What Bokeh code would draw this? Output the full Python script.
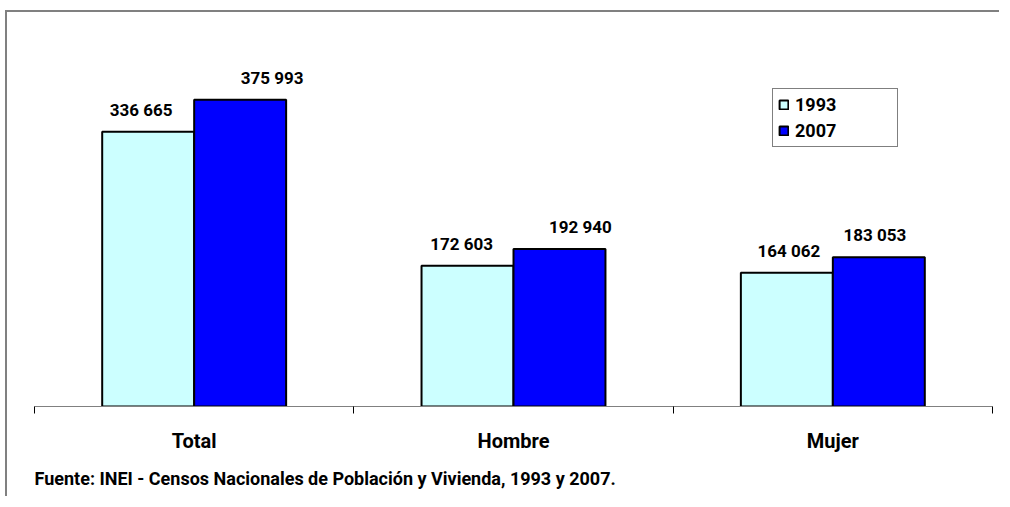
from bokeh.plotting import figure
from bokeh.models import ColumnDataSource, FixedTicker, Legend, LegendItem, Title, Range1d
from bokeh.embed import file_html
from bokeh.resources import INLINE
from bokeh.core.properties import value

# ---- data ----
categories = ["Total", "Hombre", "Mujer"]
series_names = ["1993", "2007"]
values_1993 = [336665, 172603, 164062]
values_2007 = [375993, 192940, 183053]
source_note = "Fuente: INEI - Censos Nacionales de Población y Vivienda, 1993 y 2007."

# ---- styling ----
FONT = "Roboto"
COLOR_1993 = "#CCFFFF"
COLOR_2007 = "#0000FF"
BAR_W = 0.288
label_dx_1993 = [-7, -6, 2]     # pixel nudges of the data labels
label_dx_2007 = [32, 21, -4]


def fmt(v):
    return f"{v:,}".replace(",", " ")


centers = [i + 0.5 for i in range(len(categories))]
bounds = [float(i) for i in range(len(categories) + 1)]

src = ColumnDataSource(dict(
    x93=[c - BAR_W / 2 for c in centers],
    x07=[c + BAR_W / 2 for c in centers],
    v93=values_1993,
    v07=values_2007,
    l93=[fmt(v) for v in values_1993],
    l07=[fmt(v) for v in values_2007],
    dx93=label_dx_1993,
    dx07=label_dx_2007,
))

p = figure(width=994, height=486,
           x_range=Range1d(0, len(categories)), y_range=Range1d(0, 440000),
           output_backend="svg", toolbar_location=None,
           y_axis_location=None,
           min_border_left=27, min_border_right=9,
           min_border_top=35, min_border_bottom=92)
p.styles = {"border-left": "2px solid #808080", "border-top": "2px solid #808080",
            "margin-top": "10px", "margin-left": "5px"}
p.xgrid.visible = False
p.ygrid.visible = False
p.outline_line_color = None
p.background_fill_color = "white"
p.border_fill_color = "white"

r1 = p.vbar(x="x93", top="v93", bottom=0, width=BAR_W, source=src,
            fill_color=COLOR_1993, line_color="black", line_width=2)
r2 = p.vbar(x="x07", top="v07", bottom=0, width=BAR_W, source=src,
            fill_color=COLOR_2007, line_color="black", line_width=2)

for xcol, ycol, lcol, dxcol in [("x93", "v93", "l93", "dx93"), ("x07", "v07", "l07", "dx07")]:
    p.text(x=xcol, y=ycol, text=lcol, source=src, x_offset=dxcol, y_offset=-22,
           text_align="center", text_baseline="alphabetic",
           text_font=value(FONT), text_font_size="17px", text_font_style="bold",
           text_color="black")

xa = p.xaxis[0]
xa.ticker = FixedTicker(ticks=centers, minor_ticks=bounds)
xa.major_label_overrides = {c: cat for c, cat in zip(centers, categories)}
xa.major_tick_out = 0
xa.major_tick_in = 0
xa.minor_tick_out = 7
xa.minor_tick_in = 0
xa.minor_tick_line_color = "black"
xa.minor_tick_line_width = 1
xa.axis_line_color = "#808080"
xa.axis_line_width = 1
xa.major_label_text_font = FONT
xa.major_label_text_font_size = "20px"
xa.major_label_text_font_style = "bold"
xa.major_label_text_color = "black"
xa.major_label_standoff = 15

legend = Legend(items=[LegendItem(label=series_names[0], renderers=[r1]),
                       LegendItem(label=series_names[1], renderers=[r2])],
                location=(738, 259))
legend.border_line_color = "black"
legend.border_line_width = 1
legend.background_fill_color = "white"
legend.background_fill_alpha = 1
legend.label_text_font = FONT
legend.label_text_font_size = "18px"
legend.label_text_font_style = "bold"
legend.label_text_color = "black"
legend.glyph_width = 11
legend.glyph_height = 11
legend.padding = 5
legend.spacing = 5
legend.label_standoff = 6
legend.label_height = 18
legend.label_width = 97
legend.margin = 0
p.add_layout(legend)

note = Title(text=source_note, align="left", offset=0,
             text_font=FONT, text_font_size="18px", text_font_style="bold",
             text_color="black", standoff=20)
p.add_layout(note, "below")

open("out.html", "w").write(file_html(p, INLINE))
